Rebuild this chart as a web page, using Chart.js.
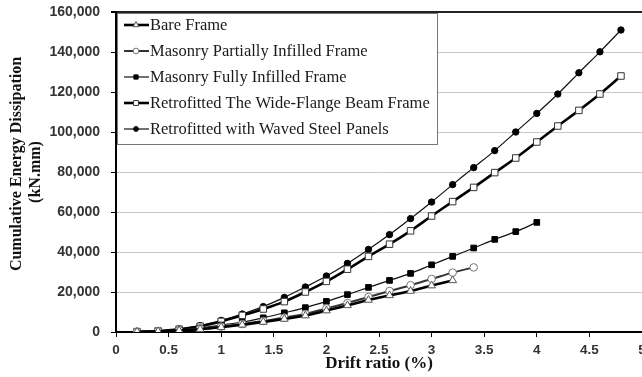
<!DOCTYPE html>
<html>
<head>
<meta charset="utf-8">
<script src="https://cdn.jsdelivr.net/npm/chart.js@4/dist/chart.umd.min.js"></script>
<style>
  html, body { margin: 0; padding: 0; background: #fff; overflow: hidden; }
  #wrap { width: 642px; height: 377px; }
</style>
</head>
<body>
<div id="wrap"><canvas id="canvas" width="642" height="377"></canvas></div>
<script>
// drift ratio (%) for every load step
var drift = [0.2, 0.4, 0.6, 0.8, 1.0, 1.2, 1.4, 1.6, 1.8, 2.0, 2.2, 2.4,
             2.6, 2.8, 3.0, 3.2, 3.4, 3.6, 3.8, 4.0, 4.2, 4.4, 4.6, 4.8];

// cumulative energy (kN.mm), one value per step until the test stopped
var bareFrame = [100, 300, 700, 1400, 2400, 3600, 5000, 6500, 8200, 10700,
                 13300, 16000, 18300, 20500, 23200, 25800];
var partialInfill = [100, 300, 800, 1600, 2700, 4000, 5500, 7200, 9000, 11800,
                     14500, 17500, 20500, 23400, 26500, 29700, 32300];
var fullInfill = [100, 300, 900, 2000, 3500, 5000, 7100, 9600, 12200, 15300,
                  18700, 22300, 25800, 29300, 33600, 37800, 42000, 46300, 50200, 54800];
var wfBeam = [200, 500, 1400, 2900, 5300, 8300, 11500, 15200, 20000, 25300,
              31400, 37800, 43900, 50600, 58000, 65200, 72300, 79700, 87000, 95000,
              103000, 110800, 119000, 128000];
var wavedPanels = [200, 500, 1500, 3200, 5800, 9000, 12700, 17300, 22500, 28000,
                   34300, 41300, 48700, 56700, 65000, 73700, 82200, 90700, 100000, 109300,
                   119000, 129600, 140100, 151000];

var seriesNames = ["Bare Frame", "Masonry Partially Infilled Frame", "Masonry Fully Infilled Frame",
                   "Retrofitted The Wide-Flange Beam Frame", "Retrofitted with Waved Steel Panels"];

var xTicks = [0, 0.5, 1, 1.5, 2, 2.5, 3, 3.5, 4, 4.5, 5];
var yTicks = [0, 20000, 40000, 60000, 80000, 100000, 120000, 140000, 160000];

function points(vals) {
    return vals.map(function (v, i) { return { x: drift[i], y: v }; });
}

var datasets = [{
    label: seriesNames[0],
    data: points(bareFrame),
    borderColor: "#000", borderWidth: 2.6,
    pointStyle: "triangle", pointRadius: 4.5, pointBorderWidth: 1,
    pointBorderColor: "#555", pointBackgroundColor: "#fff"
}, {
    label: seriesNames[1],
    data: points(partialInfill),
    borderColor: "#333", borderWidth: 2,
    pointStyle: "circle", pointRadius: 3.8, pointBorderWidth: 1,
    pointBorderColor: "#777", pointBackgroundColor: "#fff"
}, {
    label: seriesNames[2],
    data: points(fullInfill),
    borderColor: "#111", borderWidth: 1.2,
    pointStyle: "rect", pointRadius: 4, pointBorderWidth: 1,
    pointBorderColor: "#000", pointBackgroundColor: "#000"
}, {
    label: seriesNames[3],
    data: points(wfBeam),
    borderColor: "#000", borderWidth: 2.6,
    pointStyle: "rect", pointRadius: 4.6, pointBorderWidth: 1,
    pointBorderColor: "#333", pointBackgroundColor: "#fff"
}, {
    label: seriesNames[4],
    data: points(wavedPanels),
    borderColor: "#111", borderWidth: 1.2,
    pointStyle: "circle", pointRadius: 3.2, pointBorderWidth: 1,
    pointBorderColor: "#000", pointBackgroundColor: "#000"
}];

// boxed legend inside the plot, top-left
var boxLegend = {
    id: "boxLegend",
    afterDraw: function (chart) {
        var c = chart.ctx;
        var left = chart.chartArea.left + 1, top = chart.chartArea.top + 1;
        c.save();
        c.fillStyle = "#fff";
        c.fillRect(left, top, 320, 131);
        c.strokeStyle = "#777";
        c.lineWidth = 1;
        c.strokeRect(left + 0.5, top + 0.5, 320, 131);
        c.font = "16.5px 'Liberation Serif', 'Times New Roman', serif";
        c.textBaseline = "middle";
        chart.data.datasets.forEach(function (ds, i) {
            var y = top + 12 + i * 26;
            c.strokeStyle = ds.borderColor;
            c.lineWidth = ds.borderWidth;
            c.beginPath();
            c.moveTo(left + 7, y);
            c.lineTo(left + 32, y);
            c.stroke();
            c.fillStyle = ds.pointBackgroundColor;
            c.strokeStyle = ds.pointBorderColor;
            c.lineWidth = 1;
            Chart.helpers.drawPoint(c, { pointStyle: ds.pointStyle, radius: ds.pointRadius * 0.75, rotation: 0, borderWidth: 1 }, left + 19, y);
            c.fillStyle = "#1a1a1a";
            c.fillText(ds.label, left + 33, y + 1);
        });
        c.restore();
    }
};

var config = {
    type: "line",
    data: { datasets: datasets },
    options: {
        responsive: false,
        animation: false,
        layout: { autoPadding: false, padding: { top: 12, right: 0, left: 0, bottom: 0 } },
        elements: { line: { tension: 0.35 } },
        plugins: { legend: { display: false }, tooltip: { enabled: false } },
        scales: {
            x: {
                type: "linear", min: 0, max: 5,
                afterBuildTicks: function (s) { s.ticks = xTicks.map(function (v) { return { value: v }; }); },
                afterFit: function (s) { s.height = 45; s.paddingLeft = 0; s.paddingRight = 0; },
                border: { color: "#000", width: 2 },
                grid: { drawOnChartArea: false, tickColor: "#000", tickLength: 5 },
                ticks: {
                    color: "#333", padding: 5, maxRotation: 0, autoSkip: false,
                    font: { family: "'Liberation Sans', Arial, sans-serif", size: 13.5, weight: "bold" },
                    callback: function (v) { return String(v); }
                },
                title: {
                    display: true, text: "Drift ratio (%)", color: "#111",
                    padding: { top: 0, bottom: 3 },
                    font: { family: "'Liberation Serif', 'Times New Roman', serif", size: 17, weight: "bold" }
                }
            },
            y: {
                min: 0, max: 160000,
                afterBuildTicks: function (s) { s.ticks = yTicks.map(function (v) { return { value: v }; }); },
                afterFit: function (s) { s.width = 116; s.paddingTop = 0; s.paddingBottom = 0; },
                border: { color: "#000", width: 2 },
                grid: {
                    color: function (c) { return c.tick && c.tick.value === 160000 ? "#222" : "#c8c8c8"; },
                    lineWidth: function (c) { return c.tick && c.tick.value === 160000 ? 2 : 1; },
                    tickColor: "#000", tickLength: 5
                },
                ticks: {
                    color: "#333", padding: 11,
                    font: { family: "'Liberation Sans', Arial, sans-serif", size: 14, weight: "bold" },
                    callback: function (v) { return v.toLocaleString("en-US"); }
                },
                title: {
                    display: true, text: ["    Cumulative Energy Dissipation", "(kN.mm)"], color: "#111",
                    padding: { top: 7, bottom: 0 },
                    font: { family: "'Liberation Serif', 'Times New Roman', serif", size: 16, weight: "bold", lineHeight: 1.2 }
                }
            }
        }
    },
    plugins: [boxLegend]
};

var chart = new Chart(document.getElementById("canvas").getContext("2d"), config);
</script>
</body>
</html>
